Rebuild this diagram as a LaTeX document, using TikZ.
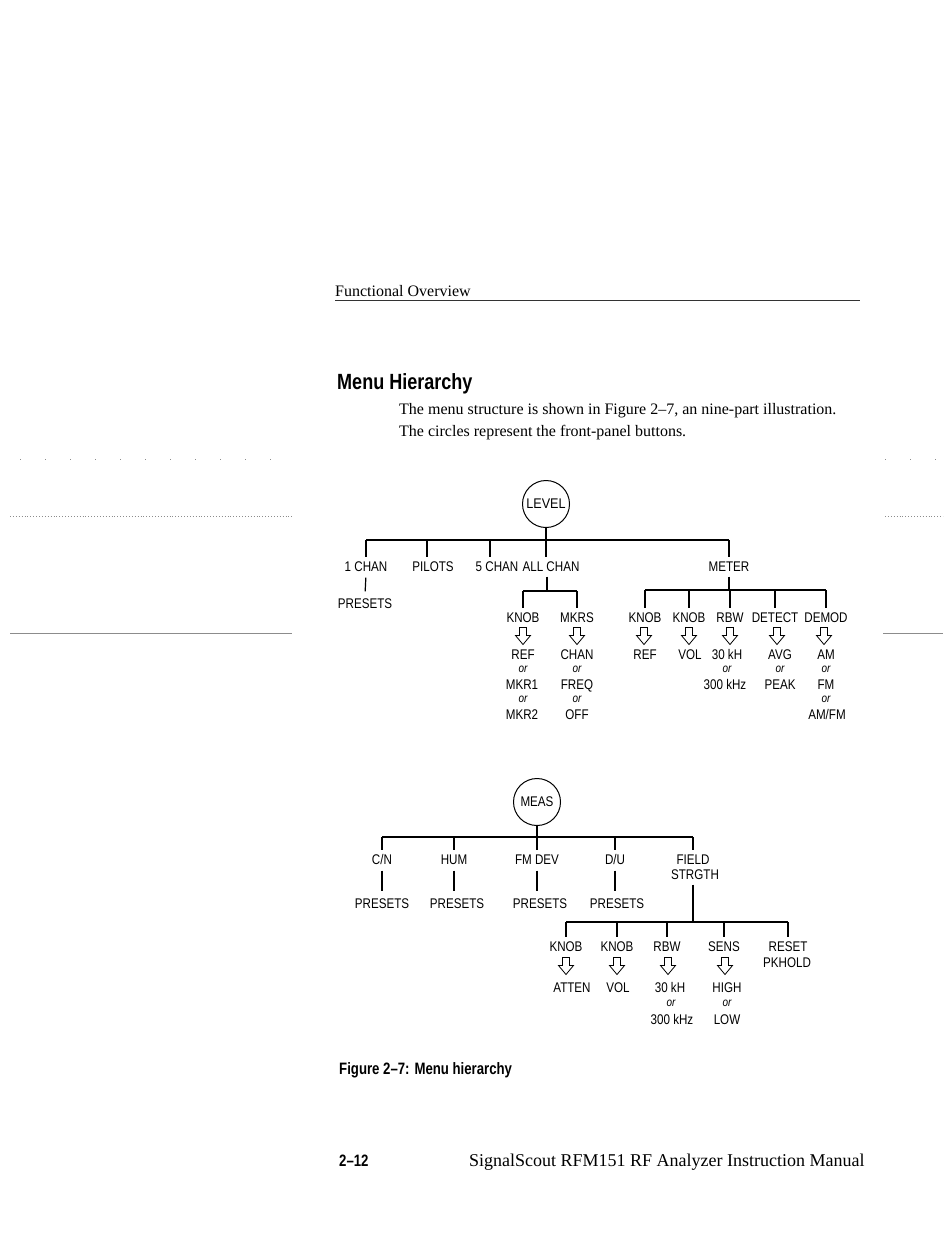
\documentclass[tikz,border=0pt]{standalone}
\usepackage{fontspec}
\setmainfont{Liberation Serif}
\newfontfamily\dsans[FakeStretch=0.83]{Liberation Sans}
\newfontfamily\tsans[FakeStretch=0.82]{Liberation Sans}
\newfontfamily\lsans[FakeStretch=0.9]{Liberation Sans}
\newfontfamily\csans[FakeStretch=0.8]{Liberation Sans}
\begin{document}
\begin{tikzpicture}[x=1pt,y=-1pt,
  lbl/.style={font=\dsans\fontsize{14}{14}\selectfont, text height=10pt, text depth=0pt, inner xsep=1pt, inner ysep=3.5pt},
  ortxt/.style={font=\dsans\itshape\fontsize{12}{12}\selectfont, text height=6.2pt, text depth=0pt, inner sep=1pt},
  conn/.style={line width=1.3pt},
  bus/.style={line width=1.7pt},
  vlink/.style={line width=1.2pt, shorten <=3pt, shorten >=3pt},
  btn/.style={circle, draw, line width=1pt, minimum size=47pt, inner sep=0pt, font=\lsans\fontsize{14}{14}\selectfont},
  pics/harrow/.style={code={\draw[line width=0.8pt, line join=miter] (-3.5,-8.5) -- (3.5,-8.5) -- (3.5,-0.5) -- (7.5,-0.5) -- (0,8.5) -- (-7.5,-0.5) -- (-3.5,-0.5) -- cycle;}},
  scan/.style={black!45, line width=0.9pt}
]
\fill[white] (0,0) rectangle (950,1237);
\useasboundingbox (0,0) rectangle (950,1237);

% scan artefacts at the page margins
\draw[scan, dash pattern=on 1pt off 24pt] (20,459) -- (292,459);
\draw[scan, dash pattern=on 1pt off 24pt] (885,459) -- (943,459);
\draw[scan, dotted] (10,516) -- (292,516);
\draw[scan, dotted] (885,516) -- (943,516);
\draw[scan] (10,633) -- (292,633);
\draw[scan] (883,633) -- (943,633);

% header
\node[anchor=base west, inner sep=0pt, font=\fontsize{16}{16}\selectfont] (hdr) at (335,296) {Functional Overview};
\coordinate (rl) at (335,300);
\coordinate (rr) at (860,300);
\draw[line width=0.8pt, black!80] (rl) -- (rr);

\node[anchor=base west, inner sep=0pt, font=\tsans\bfseries\fontsize{22}{22}\selectfont] (title) at (337,389) {Menu Hierarchy};
\node[anchor=base west, inner sep=0pt, font=\fontsize{16}{16}\selectfont] (p1) at (399,414) {The menu structure is shown in Figure 2–7, an nine-part illustration.};
\node[anchor=base west, inner sep=0pt, font=\fontsize{16}{16}\selectfont] (p2) at (399,436) {The circles represent the front-panel buttons.};

% ---------------- LEVEL tree ----------------
\node[btn] (level) at (546,504) {LEVEL};
\coordinate (b1) at (0,540);
\node[lbl] (c1) at (366,566) {1 CHAN};
\node[lbl] (pil) at (433,566) {PILOTS};
\node[lbl] (c5) at (497,566) {5 CHAN};
\node[lbl] (allc) at (551,566) {ALL CHAN};
\node[lbl] (meter) at (729,566) {METER};
\node[lbl] (pre1) at (365,603) {PRESETS};
\coordinate (pild) at ([xshift=-6pt]pil.north);
\coordinate (c5d) at ([xshift=-7pt]c5.north);
\coordinate (alld) at ([xshift=-5pt]allc.north);
\coordinate (alls) at ([xshift=-4pt]allc.south);

\draw[conn] (level.south) -- (level.south |- b1);
\draw[bus] (c1.north |- b1) -- (meter.north |- b1);
\draw[conn] (c1.north |- b1) -- (c1.north);
\draw[conn] (pild |- b1) -- (pild);
\draw[conn] (c5d |- b1) -- (c5d);
\draw[conn] (alld |- b1) -- (alld);
\draw[conn] (meter.north |- b1) -- (meter.north);
\draw[vlink] (c1.south) -- (pre1.north);

% ALL CHAN subtree
\coordinate (b2) at (0,591);
\node[lbl] (k1) at (523,617) {KNOB};
\node[lbl] (mk) at (577,617) {MKRS};
\draw[conn, shorten <=2pt] (alls) -- (alls |- b2);
\draw[bus] (k1.north |- b2) -- (mk.north |- b2);
\draw[conn] (k1.north |- b2) -- (k1.north);
\draw[conn] (mk.north |- b2) -- (mk.north);
\pic at (523,636) {harrow};
\pic at (577,636) {harrow};
\node[lbl] (k1a) at (523,654) {REF};
\node[ortxt] (k1o1) at (523,669) {or};
\node[lbl] (k1b) at (522,684) {MKR1};
\node[ortxt] (k1o2) at (523,699) {or};
\node[lbl] (k1c) at (522,714) {MKR2};
\node[lbl] (mka) at (577,654) {CHAN};
\node[ortxt] (mko1) at (577,669) {or};
\node[lbl] (mkb) at (577,684) {FREQ};
\node[ortxt] (mko2) at (577,699) {or};
\node[lbl] (mkc) at (577,714) {OFF};

% METER subtree
\coordinate (b3) at (0,590);
\node[lbl] (mk1) at (645,617) {KNOB};
\node[lbl] (mk2) at (689,617) {KNOB};
\node[lbl] (mrbw) at (730,617) {RBW};
\node[lbl] (mdet) at (775,617) {DETECT};
\node[lbl] (mdem) at (826,617) {DEMOD};
\draw[conn, shorten <=2pt] (meter.south) -- (meter.south |- b3);
\draw[bus] (mk1.north |- b3) -- (mdem.north |- b3);
\foreach \n in {mk1,mk2,mrbw,mdet,mdem}{
  \draw[conn] (\n.north |- b3) -- (\n.north);
}
\foreach \x in {644,689,730,777,824}{
  \pic at (\x,636) {harrow};
}
\node[lbl] (mk1a) at (645,654) {REF};
\node[lbl] (mk2a) at (690,654) {VOL};
\node[lbl] (rbwa) at (727,654) {30 kH};
\node[ortxt] (rbwo) at (727,669) {or};
\node[lbl] (rbwb) at (725,684) {300 kHz};
\node[lbl] (deta) at (780,654) {AVG};
\node[ortxt] (deto) at (780,669) {or};
\node[lbl] (detb) at (780,684) {PEAK};
\node[lbl] (dema) at (826,654) {AM};
\node[ortxt] (demo1) at (826,669) {or};
\node[lbl] (demb) at (826,684) {FM};
\node[ortxt] (demo2) at (826,699) {or};
\node[lbl] (demc) at (827,714) {AM/FM};

% ---------------- MEAS tree ----------------
\node[btn, font=\dsans\fontsize{14}{14}\selectfont] (meas) at (537,802) {MEAS};
\coordinate (c1b) at (0,837);
\node[lbl] (cn) at (382,859) {C/N};
\node[lbl] (hum) at (454,859) {HUM};
\node[lbl] (fmd) at (537,859) {FM DEV};
\node[lbl] (du) at (615,859) {D/U};
\node[lbl] (fld) at (693,859) {FIELD};
\node[lbl] (strg) at (695,874) {STRGTH};
\draw[conn] (meas.south) -- (meas.south |- c1b);
\draw[bus] (cn.north |- c1b) -- (fld.north |- c1b);
\foreach \n in {cn,hum,fmd,du,fld}{
  \draw[conn] (\n.north |- c1b) -- (\n.north);
}
\node[lbl] (pcn) at (382,903) {PRESETS};
\node[lbl] (phum) at (457,903) {PRESETS};
\node[lbl] (pfmd) at (540,903) {PRESETS};
\node[lbl] (pdu) at (617,903) {PRESETS};
\draw[vlink] (cn.south) -- (cn.south |- pcn.north);
\draw[vlink] (hum.south) -- (hum.south |- phum.north);
\draw[vlink] (fmd.south) -- (fmd.south |- pfmd.north);
\draw[vlink] (du.south) -- (du.south |- pdu.north);

% FIELD STRGTH subtree
\coordinate (c2b) at (0,922);
\coordinate (fls) at ([xshift=-2pt]strg.south);
\node[lbl] (f1) at (566,946) {KNOB};
\node[lbl] (f2) at (617,946) {KNOB};
\node[lbl] (f3) at (667,946) {RBW};
\node[lbl] (f4) at (724,946) {SENS};
\node[lbl] (f5) at (788,946) {RESET};
\node[lbl] (f5b) at (787,962) {PKHOLD};
\draw[conn, shorten <=2pt] (fls) -- (fls |- c2b);
\draw[bus] (f1.north |- c2b) -- (f5.north |- c2b);
\foreach \n in {f1,f2,f3,f4,f5}{
  \draw[conn] (\n.north |- c2b) -- (\n.north);
}
\foreach \x in {566,617,668,725}{
  \pic at (\x,966) {harrow};
}
\node[lbl] (f1a) at (572,987) {ATTEN};
\node[lbl] (f2a) at (618,987) {VOL};
\node[lbl] (f3a) at (670,987) {30 kH};
\node[ortxt] (f3o) at (671,1003) {or};
\node[lbl] (f3b) at (672,1019) {300 kHz};
\node[lbl] (f4a) at (727,987) {HIGH};
\node[ortxt] (f4o) at (727,1003) {or};
\node[lbl] (f4b) at (727,1019) {LOW};

% caption and footer
\node[anchor=base west, inner sep=0pt, font=\csans\bfseries\fontsize{16.5}{16.5}\selectfont] (cap) at (339,1074) {Figure 2–7: Menu hierarchy};
\node[anchor=base west, inner sep=0pt, font=\csans\bfseries\fontsize{16.5}{16.5}\selectfont] (pg) at (339,1166) {2–12};
\node[anchor=base west, inner sep=0pt, font=\fontsize{18}{18}\selectfont] (man) at (469,1166) {SignalScout RFM151 RF Analyzer Instruction Manual};
\end{tikzpicture}
\end{document}
